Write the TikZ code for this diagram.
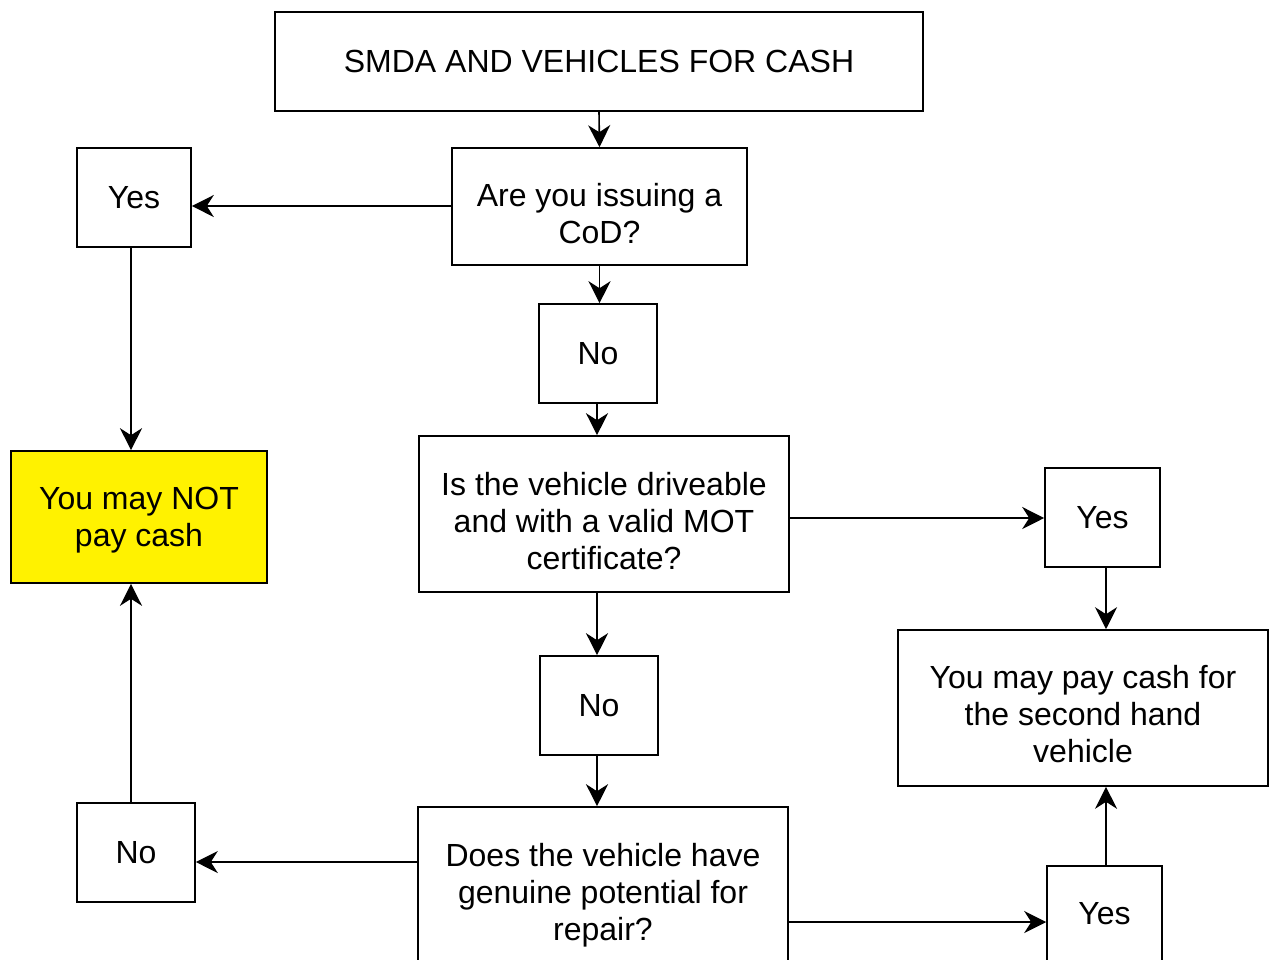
\documentclass[tikz,border=0pt]{standalone}
\usepackage{fontspec}
\setmainfont{Liberation Sans}
\usetikzlibrary{arrows.meta}
\begin{document}
\begin{tikzpicture}[x=1pt,y=-1pt,
  box/.style={draw=black,line width=1.6pt,fill=white,inner sep=0pt},
  txt/.style={inner sep=0pt,align=center,font=\fontsize{32}{37}\selectfont},
  arr/.style={line width=1.6pt,-{Stealth[length=22pt,width=22pt,inset=7pt]}}]
\useasboundingbox (0,0) rectangle (1273,959);
\fill[white] (0,0) rectangle (1273,959);
\newcommand{\bx}[8]{\node[box,#7,minimum width=#4-#2,minimum height=#5-#3] (#1) at ({(#2+#4)/2},{(#3+#5)/2}) {};
  \node[txt] (#1-t) at ([yshift=-#8pt]#1.center) {#6};}
\bx{title}{275}{12}{923}{111}{SMDA AND VEHICLES FOR CASH}{}{0}
\bx{q1}{452}{148}{747}{265}{Are you issuing a\\CoD?}{}{7}
\bx{yes1}{77}{148}{191}{247}{Yes}{}{0}
\bx{no1}{539}{304}{657}{403}{No}{}{0}
\bx{not}{11}{451}{267}{583}{You may NOT\\pay cash}{fill=yellow}{3}
\bx{q2}{419}{436}{789}{592}{Is the vehicle driveable\\and with a valid MOT\\certificate?}{}{7}
\bx{yes2}{1045}{468}{1160}{567}{Yes}{}{0}
\bx{pay}{898}{630}{1268}{786}{You may pay cash for\\the second hand\\vehicle}{}{6}
\bx{no2}{540}{656}{658}{755}{No}{}{0}
\bx{no3}{77}{803}{195}{902}{No}{}{0}
\bx{q3}{418}{807}{788}{977}{Does the vehicle have\\genuine potential for\\repair?}{}{3}
\bx{yes3}{1047}{866}{1162}{962}{Yes}{}{0}
\draw[arr] (title.south) -- (q1.north);
\draw[arr] (q1.west |- 0,206) -- (yes1.east |- 0,206);
\draw[arr] (yes1.south -| 131,0) -- (not.north -| 131,0);
\draw[arr] (q1.south) -- (no1.north -| q1.south);
\draw[arr] (no1.south -| 597,0) -- (q2.north -| 597,0);
\draw[arr] (q2.east |- 0,518) -- (yes2.west |- 0,518);
\draw[arr] (yes2.south -| 1106,0) -- (pay.north -| 1106,0);
\draw[arr] (q2.south -| 597,0) -- (no2.north -| 597,0);
\draw[arr] (no2.south -| 597,0) -- (q3.north -| 597,0);
\draw[arr] (q3.west |- 0,862) -- (no3.east |- 0,862);
\draw[arr] (no3.north -| 131,0) -- (not.south -| 131,0);
\draw[arr] (q3.east |- 0,922) -- (yes3.west |- 0,922);
\draw[arr] (yes3.north -| 1106,0) -- (pay.south -| 1106,0);
\end{tikzpicture}
\end{document}
